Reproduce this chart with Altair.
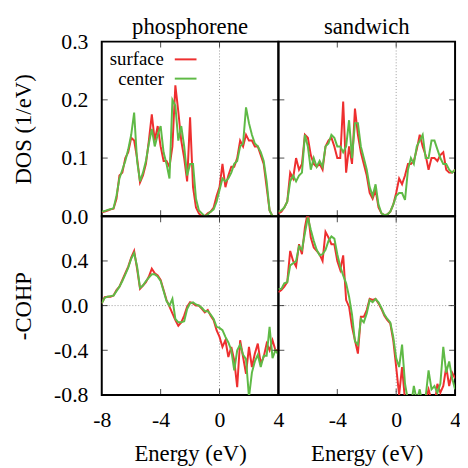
import altair as alt
import pandas as pd

# Energy grid (eV), 0.2 eV sampling
energy = [round(-8 + 0.2 * i, 1) for i in range(61)]

series = ["surface", "center"]
columns = ["phosphorene", "sandwich"]
x_ticks_labels_left = [-8, -4, 0, 4]
x_ticks_labels_right = [-4, 0, 4]
dos_ticks = [0.0, 0.1, 0.2, 0.3]
cohp_ticks = [-0.8, -0.4, 0.0, 0.4]

dos_phos_surface = [0.007, 0.008, 0.010, 0.012, 0.013, 0.030, 0.070, 0.075, 0.100, 0.110,
                    0.135, 0.130, 0.100, 0.058, 0.070, 0.090, 0.130, 0.175, 0.130, 0.155,
                    0.120, 0.095, 0.095, 0.085, 0.120, 0.225, 0.180, 0.130, 0.100, 0.060,
                    0.170, 0.050, 0.015, 0.005, 0.000, 0.000, 0.005, 0.008, 0.015, 0.035,
                    0.050, 0.090, 0.050, 0.070, 0.085, 0.085, 0.100, 0.130, 0.120, 0.140,
                    0.130, 0.130, 0.120, 0.120, 0.105, 0.090, 0.050, 0.010, 0.000, 0.000, 0.000]
dos_phos_center = [0.008, 0.009, 0.011, 0.012, 0.014, 0.035, 0.065, 0.080, 0.095, 0.115,
                   0.140, 0.178, 0.095, 0.060, 0.075, 0.095, 0.125, 0.150, 0.120, 0.140,
                   0.155, 0.110, 0.090, 0.065, 0.200, 0.190, 0.130, 0.155, 0.120, 0.070,
                   0.090, 0.090, 0.030, 0.010, 0.005, 0.000, 0.003, 0.008, 0.012, 0.025,
                   0.045, 0.065, 0.060, 0.065, 0.075, 0.090, 0.095, 0.120, 0.125, 0.187,
                   0.160, 0.140, 0.125, 0.120, 0.110, 0.095, 0.060, 0.010, 0.000, 0.000, 0.000]
dos_sand_surface = [0.005, 0.008, 0.015, 0.025, 0.075, 0.065, 0.100, 0.080, 0.090, 0.140,
                    0.135, 0.105, 0.090, 0.085, 0.090, 0.080, 0.120, 0.130, 0.135, 0.120,
                    0.100, 0.100, 0.197, 0.075, 0.120, 0.090, 0.185, 0.140, 0.110, 0.090,
                    0.070, 0.040, 0.030, 0.045, 0.015, 0.005, 0.002, 0.003, 0.008, 0.020,
                    0.040, 0.065, 0.055, 0.070, 0.090, 0.090, 0.095, 0.115, 0.140, 0.120,
                    0.105, 0.080, 0.100, 0.100, 0.095, 0.105, 0.110, 0.080, 0.075, 0.075, 0.080]
dos_sand_center = [0.008, 0.010, 0.015, 0.025, 0.060, 0.070, 0.060, 0.070, 0.075, 0.140,
                   0.120, 0.080, 0.100, 0.085, 0.095, 0.085, 0.120, 0.125, 0.140, 0.135,
                   0.120, 0.120, 0.110, 0.120, 0.165, 0.100, 0.160, 0.160, 0.120, 0.100,
                   0.080, 0.050, 0.035, 0.055, 0.020, 0.005, 0.002, 0.003, 0.008, 0.020,
                   0.035, 0.040, 0.040, 0.028, 0.080, 0.100, 0.090, 0.120, 0.130, 0.140,
                   0.100, 0.100, 0.130, 0.130, 0.115, 0.100, 0.090, 0.090, 0.080, 0.075, 0.080]
cohp_phos_surface = [0.02, 0.075, 0.08, 0.08, 0.09, 0.14, 0.17, 0.23, 0.29, 0.35,
                     0.43, 0.49, 0.33, 0.15, 0.18, 0.21, 0.26, 0.33, 0.29, 0.27,
                     0.23, 0.14, 0.05, -0.01, -0.07, -0.13, -0.18, -0.15, -0.09, -0.01,
                     0.03, 0.02, 0.0, 0.0, -0.03, -0.06, -0.04, -0.09, -0.13, -0.22,
                     -0.28, -0.37, -0.31, -0.46, -0.37, -0.49, -0.73, -0.31, -0.46, -0.61,
                     -0.37, -0.55, -0.43, -0.34, -0.52, -0.46, -0.34, -0.40, -0.31, -0.40, -0.40]
cohp_phos_center = [0.02, 0.07, 0.08, 0.085, 0.09, 0.13, 0.17, 0.22, 0.28, 0.34,
                    0.42, 0.47, 0.35, 0.16, 0.18, 0.22, 0.25, 0.28, 0.28, 0.26,
                    0.22, 0.13, 0.04, 0.0, 0.06, -0.12, -0.15, -0.15, -0.14, -0.03,
                    0.02, 0.03, 0.01, 0.0, -0.02, -0.05, -0.05, -0.08, -0.12, -0.19,
                    -0.20, -0.22, -0.28, -0.33, -0.40, -0.58, -0.40, -0.35, -0.44, -0.48,
                    -0.82, -0.60, -0.50, -0.44, -0.55, -0.45, -0.45, -0.19, -0.47, -0.40, -0.44]
cohp_sand_surface = [0.12, 0.14, 0.17, 0.21, 0.49, 0.40, 0.35, 0.55, 0.46, 0.70,
                     0.84, 0.61, 0.52, 0.49, 0.46, 0.40, 0.66, 0.61, 0.55, 0.55,
                     0.40, 0.32, 0.45, 0.05, -0.01, -0.19, -0.31, -0.43, -0.10, -0.10,
                     -0.04, 0.06, 0.05, 0.06, 0.02, -0.03, -0.09, -0.13, -0.16, -0.31,
                     -0.55, -0.80, -0.55, -0.85, -0.90, -0.95, -1.0, -1.0, -1.0, -0.95,
                     -0.85, -0.75, -0.85, -0.90, -0.70, -0.78, -0.72, -0.55, -0.72, -0.60, -0.65]
cohp_sand_center = [0.15, 0.15, 0.20, 0.21, 0.36, 0.38, 0.40, 0.53, 0.50, 0.65,
                    0.79, 0.68, 0.58, 0.50, 0.45, 0.46, 0.50, 0.58, 0.62, 0.60,
                    0.46, 0.35, 0.27, 0.20, 0.08, -0.08, -0.32, -0.35, -0.12, -0.15,
                    -0.07, 0.05, 0.03, 0.06, 0.03, -0.02, -0.08, -0.12, -0.15, -0.28,
                    -0.47, -0.55, -0.35, -0.70, -0.85, -0.90, -0.72, -0.85, -0.75, -0.90,
                    -0.82, -0.58, -0.75, -0.72, -0.78, -0.70, -0.37, -0.60, -0.50, -0.65, -0.75]

RED = "#ee2f2f"
GREEN = "#5fba46"
FONT = "Liberation Serif"
LFS = 22   # tick label size
TFS = 23   # title size
LEGFS = 19
W = 179
H_TOP, H_BOT = 177, 181

XSCALE = alt.Scale(domain=[-8, 4], nice=False, zero=False)
LBL = "datum.value < 0 ? '-' + format(-datum.value, '.1f') : format(datum.value, '.1f')"


def panel(surface, center, ydom, ylabels, yinner, ytitle, show_y, show_x, xlabels, H,
          title=None, title_offset=0, legend=False, zero_h=False):
    df = pd.DataFrame({"E": energy, "surface": surface, "center": center})
    yscale = alt.Scale(domain=ydom, nice=False, zero=False)
    common = dict(labelFont=FONT, titleFont=FONT, labelFontSize=LFS, titleFontSize=TFS,
                  titleFontWeight="normal", labelColor="black", titleColor="black",
                  domain=False, ticks=False, grid=False)
    if show_x:
        xaxis = alt.Axis(values=xlabels, title="Energy (eV)", labelFlush=False,
                         labelExpr="datum.value < 0 ? '-' + (-datum.value) : '' + datum.value",
                         labelPadding=15, titlePadding=12, **common)
    else:
        xaxis = None
    if show_y:
        yaxis = alt.Axis(values=ylabels, title=ytitle, labelExpr=LBL, labelPadding=14,
                         labelFlush=False, titleX=-67, **common)
    else:
        yaxis = None
    X = lambda f: alt.X(f, scale=XSCALE, axis=xaxis)
    Y = lambda f: alt.Y(f, scale=yscale, axis=yaxis)

    layers = []
    zdf = pd.DataFrame({"z": [0.0]})
    layers.append(alt.Chart(zdf).mark_rule(color="#9a9a9a", strokeDash=[1, 2], strokeWidth=1)
                  .encode(x=X("z:Q")))
    if zero_h:
        layers.append(alt.Chart(zdf).mark_rule(color="#9a9a9a", strokeDash=[1, 2], strokeWidth=1)
                      .encode(y=Y("z:Q")))
    base = alt.Chart(df)
    layers.append(base.mark_line(color=RED, strokeWidth=2, clip=True)
                  .encode(x=X("E:Q"), y=Y("surface:Q")))
    layers.append(base.mark_line(color=GREEN, strokeWidth=2, clip=True)
                  .encode(x=X("E:Q"), y=Y("center:Q")))
    xt = pd.DataFrame({"t": [-4, 0]})
    yt = pd.DataFrame({"t": yinner})
    for yy in (3, H - 3):
        layers.append(alt.Chart(xt).mark_tick(color="black", size=6, thickness=1)
                      .encode(x=X("t:Q"), y=alt.value(yy)))
    for xx in (3, W - 3):
        layers.append(alt.Chart(yt).mark_tick(color="black", size=6, thickness=1)
                      .encode(y=Y("t:Q"), x=alt.value(xx)))
    if legend:
        for k, (name, col) in enumerate(zip(series, [RED, GREEN])):
            ypos = 18 + 19.5 * k
            layers.append(alt.Chart(zdf).mark_text(align="right", baseline="middle",
                                                   font=FONT, fontSize=LEGFS, color="black")
                          .encode(x=alt.value(63), y=alt.value(ypos), text=alt.value(name)))
            layers.append(alt.Chart(zdf).mark_rule(color=col, strokeWidth=2)
                          .encode(x=alt.value(74), x2=alt.value(96), y=alt.value(ypos)))
    ch = alt.layer(*layers).properties(width=W, height=H)
    if title:
        ch = ch.properties(title=alt.Title(title, fontSize=TFS, font=FONT, fontWeight="normal",
                                           offset=title_offset, color="black"))
    return ch


tl = panel(dos_phos_surface, dos_phos_center, [0, 0.3], dos_ticks, [0.1, 0.2], "DOS (1/eV)",
           True, False, None, H_TOP, title=columns[0], title_offset=-8, legend=True)
tr = panel(dos_sand_surface, dos_sand_center, [0, 0.3], dos_ticks, [0.1, 0.2], None,
           False, False, None, H_TOP, title=columns[1], title_offset=2)
bl = panel(cohp_phos_surface, cohp_phos_center, [-0.8, 0.8], cohp_ticks, [-0.4, 0.0, 0.4], "-COHP",
           True, True, x_ticks_labels_left, H_BOT, zero_h=True)
br = panel(cohp_sand_surface, cohp_sand_center, [-0.8, 0.8], cohp_ticks, [-0.4, 0.0, 0.4], None,
           False, True, x_ticks_labels_right, H_BOT, zero_h=True)

chart = alt.concat(tl, tr, bl, br, columns=2, spacing=0, bounds="flush").properties(
    padding={"left": 3, "top": 4, "right": -2, "bottom": 0}
).configure_view(
    stroke="black", strokeWidth=2
).configure_axis(
    domain=False, ticks=False, grid=False, labelFont=FONT, titleFont=FONT,
    labelFontSize=LFS, titleFontSize=TFS, titleFontWeight="normal", labelColor="black",
    titleColor="black"
)

chart.save("out.html", embed_options={"renderer": "svg", "actions": False})
